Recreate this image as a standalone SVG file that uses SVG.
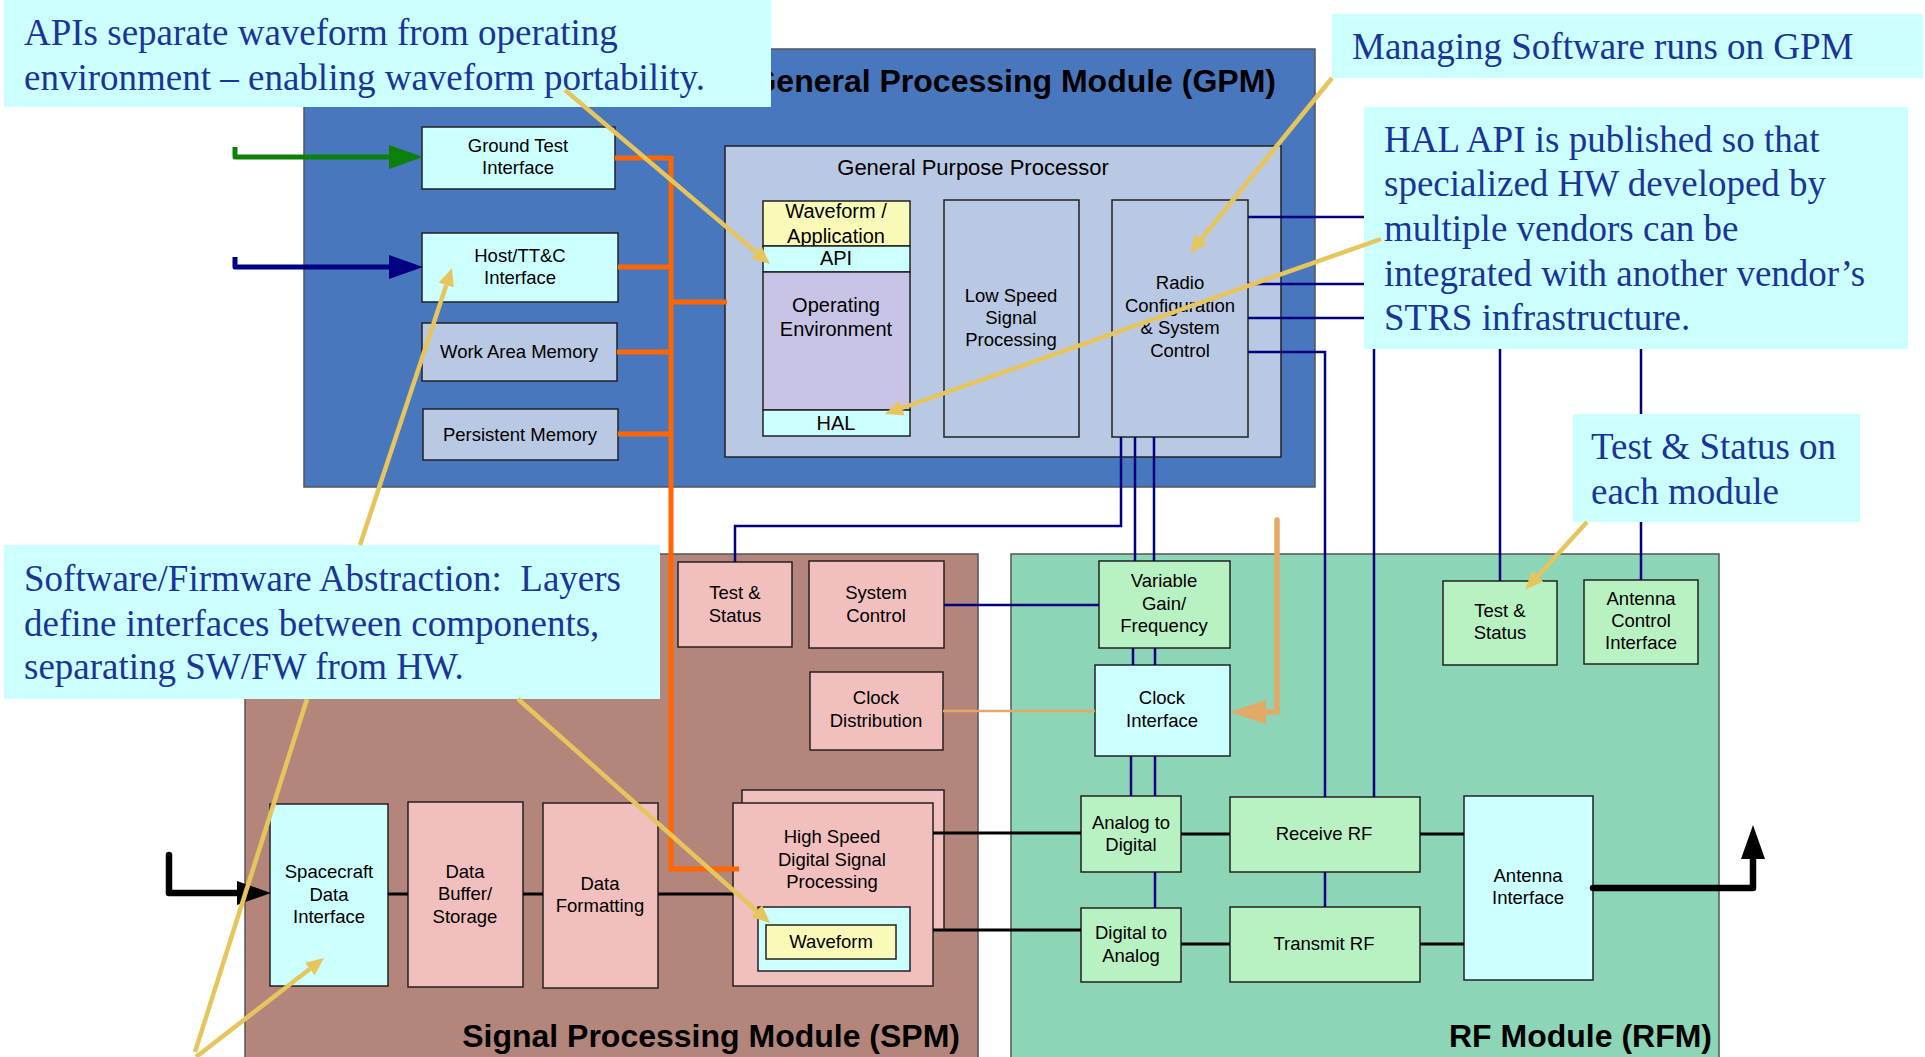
<svg xmlns="http://www.w3.org/2000/svg" width="1925" height="1057" viewBox="0 0 1925 1057">
<style>
.mod{stroke:#555;stroke-width:1.5}
.nd{stroke:#222;stroke-width:1.5}
.cy{fill:#ccffff}.pk{fill:#f1bfbd}.gr{fill:#b8f2c2}.bl{fill:#b9c9e3}.ye{fill:#fafab8}.lv{fill:#c8c4e6}
.t{font-family:"Liberation Sans",Arial,sans-serif;font-size:18.5px;fill:#000;text-anchor:middle}
.tl{font-family:"Liberation Sans",Arial,sans-serif;font-size:20px;fill:#000;text-anchor:middle}
.mt{font-family:"Liberation Sans",Arial,sans-serif;font-size:32px;font-weight:bold;fill:#000;text-anchor:end}
.co{fill:#ccffff}
.ct{font-family:"Liberation Serif","Times New Roman",serif;font-size:37px;fill:#1a3598;white-space:pre}
.nv{fill:none;stroke:#000080;stroke-width:2.5}
.or{fill:none;stroke:#ff6600;stroke-width:5}
.bk{fill:none;stroke:#000;stroke-width:3}
.ld{fill:none;stroke:#e6c65c;stroke-width:4.5}
</style>
<defs>
<marker id="ahy" markerUnits="userSpaceOnUse" markerWidth="18" markerHeight="16" viewBox="0 0 18 16" refX="0" refY="8" orient="auto"><path d="M0,0 L18,8 L0,16 z" fill="#e6c65c"/></marker>
<marker id="ahg" markerUnits="userSpaceOnUse" markerWidth="34" markerHeight="24" viewBox="0 0 34 24" refX="0" refY="12" orient="auto"><path d="M0,0 L34,12 L0,24 z" fill="#0b800b"/></marker>
<marker id="ahn" markerUnits="userSpaceOnUse" markerWidth="34" markerHeight="24" viewBox="0 0 34 24" refX="0" refY="12" orient="auto"><path d="M0,0 L34,12 L0,24 z" fill="#000080"/></marker>
<marker id="ahk" markerUnits="userSpaceOnUse" markerWidth="34" markerHeight="24" viewBox="0 0 34 24" refX="0" refY="12" orient="auto"><path d="M0,0 L34,12 L0,24 z" fill="#000"/></marker>
<marker id="aht" markerUnits="userSpaceOnUse" markerWidth="36" markerHeight="24" viewBox="0 0 36 24" refX="0" refY="12" orient="auto"><path d="M0,0 L36,12 L0,24 z" fill="#e2aa66"/></marker>
</defs>
<rect width="1925" height="1057" fill="#fff"/>

<g id="gpm">
<rect class="mod" x="304" y="49" width="1011" height="438" fill="#4877bd"/>
<text class="mt" x="1276" y="92">General Processing Module (GPM)</text>
</g>
<g id="spm">
<rect class="mod" x="245" y="554" width="733" height="510" fill="#b4857b"/>
<text class="mt" x="960" y="1047">Signal Processing Module (SPM)</text>
</g>
<g id="rfm">
<rect class="mod" x="1011" y="554" width="708" height="510" fill="#8cd5b6"/>
<text class="mt" x="1712" y="1047">RF Module (RFM)</text>
</g>

<g id="ground-test">
<rect class="nd cy" x="422" y="127" width="193" height="62"/>
<text class="t" x="518" y="152">Ground Test</text><text class="t" x="518" y="174">Interface</text>
</g>
<g id="host-ttc">
<rect class="nd cy" x="422" y="233" width="196" height="69"/>
<text class="t" x="520" y="262">Host/TT&amp;C</text><text class="t" x="520" y="284">Interface</text>
</g>
<g id="work-area-memory">
<rect class="nd bl" x="422" y="323" width="195" height="58"/>
<text class="t" x="519" y="358">Work Area Memory</text>
</g>
<g id="persistent-memory">
<rect class="nd bl" x="423" y="409" width="195" height="51"/>
<text class="t" x="520" y="441">Persistent Memory</text>
</g>
<g id="gpp">
<rect class="nd bl" x="725" y="146" width="556" height="311"/>
<text class="tl" x="973" y="175" style="font-size:22px">General Purpose Processor</text>
</g>
<g id="waveform-app">
<rect class="nd ye" x="763" y="201" width="147" height="45"/>
<text class="tl" x="836" y="218">Waveform /</text><text class="tl" x="836" y="243">Application</text>
</g>
<g id="api">
<rect class="nd cy" x="763" y="246" width="147" height="26"/>
<text class="tl" x="836" y="265">API</text>
</g>
<g id="operating-env">
<rect class="nd lv" x="763" y="272" width="147" height="138"/>
<text class="tl" x="836" y="312">Operating</text><text class="tl" x="836" y="336">Environment</text>
</g>
<g id="hal">
<rect class="nd cy" x="763" y="410" width="147" height="26"/>
<text class="tl" x="836" y="430">HAL</text>
</g>
<g id="low-speed">
<rect class="nd bl" x="944" y="200" width="135" height="237"/>
<text class="t" x="1011" y="302">Low Speed</text><text class="t" x="1011" y="324">Signal</text><text class="t" x="1011" y="346">Processing</text>
</g>
<g id="radio-config">
<rect class="nd bl" x="1112" y="200" width="136" height="237"/>
<text class="t" x="1180" y="289">Radio</text><text class="t" x="1180" y="312">Configuration</text><text class="t" x="1180" y="334">&amp; System</text><text class="t" x="1180" y="357">Control</text>
</g>

<g id="spm-test-status">
<rect class="nd pk" x="678" y="562" width="114" height="85"/>
<text class="t" x="735" y="599">Test &amp;</text><text class="t" x="735" y="622">Status</text>
</g>
<g id="system-control">
<rect class="nd pk" x="809" y="561" width="135" height="87"/>
<text class="t" x="876" y="599">System</text><text class="t" x="876" y="622">Control</text>
</g>
<g id="clock-distribution">
<rect class="nd pk" x="810" y="672" width="133" height="78"/>
<text class="t" x="876" y="704">Clock</text><text class="t" x="876" y="727">Distribution</text>
</g>
<g id="hsdsp">
<rect class="nd pk" x="742" y="790" width="202" height="140"/>
<rect class="nd pk" x="733" y="803" width="200" height="183"/>
<text class="t" x="832" y="843">High Speed</text><text class="t" x="832" y="866">Digital Signal</text><text class="t" x="832" y="888">Processing</text>
</g>
<g id="waveform">
<rect class="nd cy" x="758" y="907" width="152" height="64"/>
<rect class="nd ye" x="766" y="925" width="130" height="34"/>
<text class="t" x="831" y="948">Waveform</text>
</g>
<g id="spacecraft-data">
<rect class="nd cy" x="270" y="804" width="118" height="182"/>
<text class="t" x="329" y="878">Spacecraft</text><text class="t" x="329" y="901">Data</text><text class="t" x="329" y="923">Interface</text>
</g>
<g id="data-buffer">
<rect class="nd pk" x="408" y="802" width="115" height="185"/>
<text class="t" x="465" y="878">Data</text><text class="t" x="465" y="900">Buffer/</text><text class="t" x="465" y="923">Storage</text>
</g>
<g id="data-formatting">
<rect class="nd pk" x="543" y="803" width="115" height="185"/>
<text class="t" x="600" y="890">Data</text><text class="t" x="600" y="912">Formatting</text>
</g>

<g id="variable-gain">
<rect class="nd gr" x="1099" y="561" width="131" height="87"/>
<text class="t" x="1164" y="587">Variable</text><text class="t" x="1164" y="610">Gain/</text><text class="t" x="1164" y="632">Frequency</text>
</g>
<g id="clock-interface">
<rect class="nd cy" x="1095" y="665" width="135" height="91"/>
<text class="t" x="1162" y="704">Clock</text><text class="t" x="1162" y="727">Interface</text>
</g>
<g id="adc">
<rect class="nd gr" x="1081" y="796" width="100" height="76"/>
<text class="t" x="1131" y="829">Analog to</text><text class="t" x="1131" y="851">Digital</text>
</g>
<g id="dac">
<rect class="nd gr" x="1081" y="908" width="100" height="74"/>
<text class="t" x="1131" y="939">Digital to</text><text class="t" x="1131" y="962">Analog</text>
</g>
<g id="receive-rf">
<rect class="nd gr" x="1230" y="797" width="190" height="75"/>
<text class="t" x="1324" y="840">Receive RF</text>
</g>
<g id="transmit-rf">
<rect class="nd gr" x="1230" y="907" width="190" height="75"/>
<text class="t" x="1324" y="950">Transmit RF</text>
</g>
<g id="antenna-interface">
<rect class="nd cy" x="1464" y="796" width="129" height="184"/>
<text class="t" x="1528" y="882">Antenna</text><text class="t" x="1528" y="904">Interface</text>
</g>
<g id="rfm-test-status">
<rect class="nd gr" x="1443" y="581" width="114" height="84"/>
<text class="t" x="1500" y="617">Test &amp;</text><text class="t" x="1500" y="639">Status</text>
</g>
<g id="antenna-control">
<rect class="nd gr" x="1584" y="580" width="114" height="84"/>
<text class="t" x="1641" y="605">Antenna</text><text class="t" x="1641" y="627">Control</text><text class="t" x="1641" y="649">Interface</text>
</g>

<g id="connectors">
<path class="nv" d="M1248,217 H1641 V580"/>
<path class="nv" d="M1248,284 H1500 V581"/>
<path class="nv" d="M1248,318 H1374 V797"/>
<path class="nv" d="M1248,352 H1325 V797"/>
<path class="nv" d="M1121,437 V526 H735 V562"/>
<path class="nv" d="M1135,437 V561 M1154,437 V561"/>
<path class="nv" d="M1133,648 V665 M1155,648 V665"/>
<path class="nv" d="M1131,756 V796 M1155,756 V796"/>
<path class="nv" d="M1155,872 V908"/>
<path class="nv" d="M1325,872 V907"/>
<path class="nv" d="M944,605 H1099"/>
<path class="or" d="M671,156 V869 H739"/>
<path class="or" d="M615,158 H671 M618,267 H671 M617,352 H671 M618,434 H671 M671,302 H727"/>
<path fill="none" stroke="#e2aa66" stroke-width="2.5" d="M943,711 H1095"/>
<path fill="none" stroke="#e2aa66" stroke-width="5.5" stroke-linejoin="round" stroke-linecap="round" d="M1277,520 V712 H1266" marker-end="url(#aht)"/>
<path class="bk" d="M933,833 H1081 M933,930 H1081 M1181,834 H1230 M1181,944 H1230 M1420,834 H1464 M1420,944 H1464 M388,894 H408 M523,894 H543 M658,894 H733"/>
<path fill="none" stroke="#000" stroke-width="6.5" stroke-linejoin="round" stroke-linecap="round" d="M169,855 V893 H237" marker-end="url(#ahk)"/>
<path fill="none" stroke="#000" stroke-width="6.5" stroke-linejoin="round" stroke-linecap="round" d="M1593,888 H1753 V859" marker-end="url(#ahk)"/>
<path fill="none" stroke="#0b800b" stroke-width="5" stroke-linejoin="round" d="M235,147 V157 H389" marker-end="url(#ahg)"/>
<path fill="none" stroke="#000080" stroke-width="5" stroke-linejoin="round" d="M235,257 V267 H389" marker-end="url(#ahn)"/>
</g>

<g id="callout-leaders-under">
<path class="ld" d="M307,699 L195,1052"/>
</g>

<g id="callout-apis">
<rect class="co" x="4" y="0" width="767" height="107"/>
<text class="ct" x="24" y="45">APIs separate waveform from operating</text>
<text class="ct" x="24" y="90">environment – enabling waveform portability.</text>
</g>
<g id="callout-managing">
<rect class="co" x="1332" y="14" width="591" height="64"/>
<text class="ct" x="1352" y="59">Managing Software runs on GPM</text>
</g>
<g id="callout-hal">
<rect class="co" x="1364" y="107" width="544" height="242"/>
<text class="ct" x="1384" y="152">HAL API is published so that</text>
<text class="ct" x="1384" y="196">specialized HW developed by</text>
<text class="ct" x="1384" y="241">multiple vendors can be</text>
<text class="ct" x="1384" y="286">integrated with another vendor’s</text>
<text class="ct" x="1384" y="330">STRS infrastructure.</text>
</g>
<g id="callout-test-status">
<rect class="co" x="1573" y="414" width="287" height="108"/>
<text class="ct" x="1591" y="459">Test &amp; Status on</text>
<text class="ct" x="1591" y="504">each module</text>
</g>
<g id="callout-swfw">
<rect class="co" x="4" y="545" width="656" height="154"/>
<text class="ct" x="24" y="591">Software/Firmware Abstraction:  Layers</text>
<text class="ct" x="24" y="636">define interfaces between components,</text>
<text class="ct" x="24" y="679">separating SW/FW from HW.</text>
</g>

<g id="callout-leaders">
<path class="ld" d="M565,90 L756.3,252.4" marker-end="url(#ahy)"/>
<path class="ld" d="M1332,78 L1201.3,239" marker-end="url(#ahy)"/>
<path class="ld" d="M1381,239 L902,408" marker-end="url(#ahy)"/>
<path class="ld" d="M360,545 L446.3,285.1" marker-end="url(#ahy)"/>
<path class="ld" d="M196,1057 L309.8,969" marker-end="url(#ahy)"/>
<path class="ld" d="M518,699 L756.6,911" marker-end="url(#ahy)"/>
<path class="ld" d="M1587,522 L1537.6,576.2" marker-end="url(#ahy)"/>
</g>
</svg>
